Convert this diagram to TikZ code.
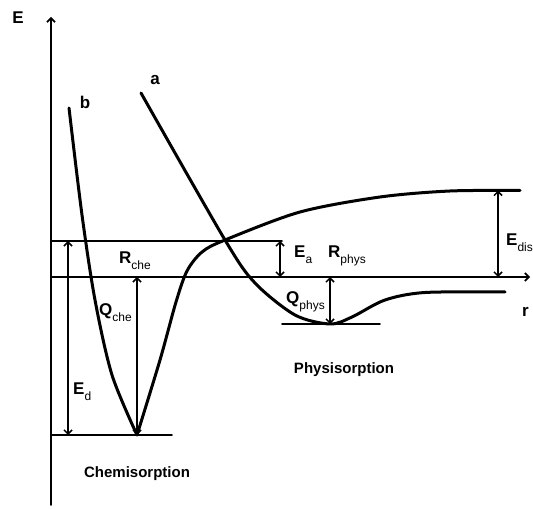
\documentclass[tikz,border=0pt]{standalone}
\usepackage{fontspec}
\setmainfont{Liberation Sans}
\usetikzlibrary{arrows.meta}
\newcommand{\lowsub}[1]{\raisebox{-0.3em}{\fontsize{12}{12}\selectfont\mdseries #1}}

\begin{document}
\begin{tikzpicture}[
        x=1pt,y=-1pt,
        curve/.style={line width=3pt},
        level/.style={line width=1.6pt},
        gap/.style={line width=1.5pt,<->},
        lbl/.style={font=\fontsize{17}{19}\selectfont\bfseries,inner sep=0pt},
        word/.style={font=\fontsize{15}{17}\selectfont\bfseries,inner sep=0pt},
        >={Straight Barb[length=4pt,width=8pt]},
        line cap=round,line join=round
    ]
    \useasboundingbox (0,0) rectangle (533,510);
    % axes
    \draw[line width=1.7pt,->] (51,505) coordinate (o) -- (51,17) coordinate (e);
    \draw[line width=1.7pt,->] (51,277) coordinate (zero) -- (530,277) coordinate (r);
    \node[lbl,anchor=base] (elbl) at (18,24) {E};
    \node[lbl,anchor=base west] (rlbl) at (522,317) {r};
    % levels
    \draw[level] (51,241) coordinate (top) -- (282,241) coordinate (topend);
    \draw[level] (51,435) coordinate (chebot) -- (172,435);
    \draw[level] (282,324) -- (380,324);
    \coordinate (chemin) at (137,435);
    \coordinate (physmin) at (330,324);
    % curve b (chemisorption)
    \draw[curve] plot[smooth,tension=0.5] coordinates {(69,108) (82,215) (95,300) (112,375) (chemin)}
        plot[smooth,tension=0.5] coordinates {(chemin) (160,360) (176,302) (187,271) (202,252) (225,240) (300,212) (380,197) (450,191) (520,190.5)};
    % curve a (physisorption)
    \draw[curve] plot[smooth,tension=0.5] coordinates {(141,93) (225,240) (255,283) (295,315) (physmin) (352,317) (385,300) (425,292.5) (505,292)};
    \node[lbl,anchor=base] (alab) at (155,85) {a};
    \node[lbl,anchor=base] (blab) at (85,109) {b};
    % gaps
    \draw[gap] (68,241) -- (68,435);
    \draw[gap] (chemin |- zero) -- (chemin);
    \draw[gap] (280,241) -- (280,277);
    \draw[gap] (physmin |- zero) -- (physmin);
    \draw[gap] (498,190.5) -- (498,277);
    % labels
    \node[lbl,anchor=base west] (rche) at (119,264) {R\lowsub{che}};
    \node[lbl,anchor=base west] (qche) at (99,316) {Q\lowsub{che}};
    \node[lbl,anchor=base west] (ed) at (73,395) {E\lowsub{d}};
    \node[lbl,anchor=base west] (ea) at (294,258) {E\lowsub{a}};
    \node[lbl,anchor=base west] (rphys) at (328,258) {R\lowsub{phys}};
    \node[lbl,anchor=base west] (qphys) at (286,304) {Q\lowsub{phys}};
    \node[lbl,anchor=base west] (edis) at (506,246) {E\lowsub{dis}};
    \node[word,anchor=base] (chem) at (137,478) {Chemisorption};
    \node[word,anchor=base] (phys) at (344,374) {Physisorption};
\end{tikzpicture}
\end{document}
